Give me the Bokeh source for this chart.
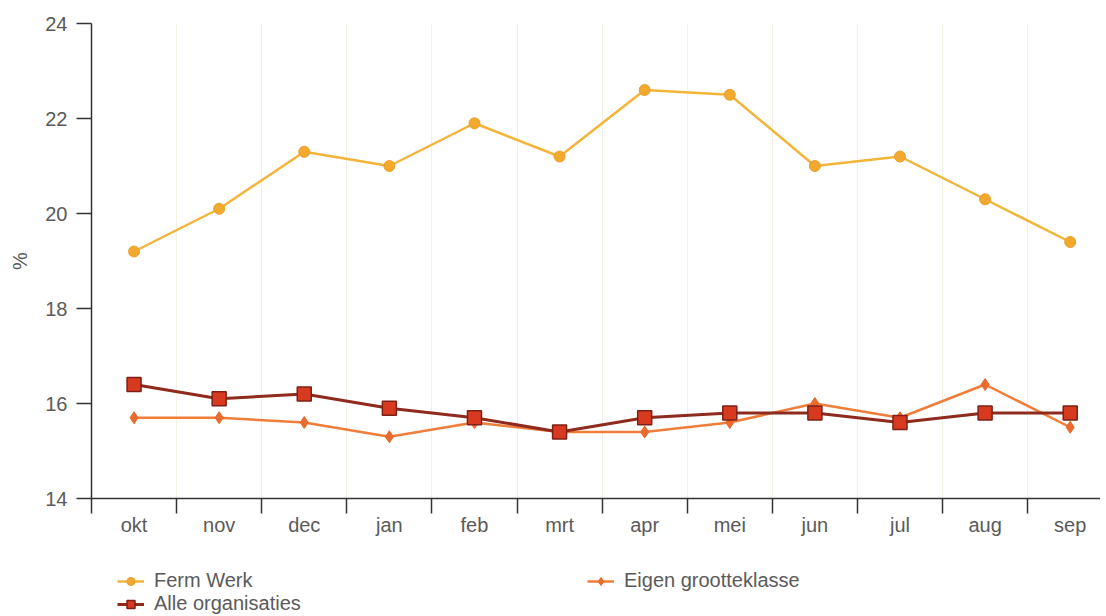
from bokeh.plotting import figure
from bokeh.layouts import column
from bokeh.models import FixedTicker, Legend, LegendItem, Range1d
from bokeh.embed import file_html
from bokeh.resources import INLINE

months = ["okt", "nov", "dec", "jan", "feb", "mrt", "apr", "mei", "jun", "jul", "aug", "sep"]
ferm_werk = [19.2, 20.1, 21.3, 21.0, 21.9, 21.2, 22.6, 22.5, 21.0, 21.2, 20.3, 19.4]
alle_org = [16.4, 16.1, 16.2, 15.9, 15.7, 15.4, 15.7, 15.8, 15.8, 15.6, 15.8, 15.8]
eigen_gk = [15.7, 15.7, 15.6, 15.3, 15.6, 15.4, 15.4, 15.6, 16.0, 15.7, 16.4, 15.5]
y_ticks = [14, 16, 18, 20, 22, 24]

xs = [i + 0.5 for i in range(len(months))]
FONT = "Liberation Sans"
FS = "20px"
TXT = "#5a5a5a"
AX = "#333333"

# styles per series
ferm_line = dict(line_color="#F2B53A", line_width=2.5)
ferm_mark = dict(marker="circle", fill_color="#F2A92E", line_color="#E9A030", line_width=1)
eigen_line = dict(line_color="#F07D3A", line_width=2.5)
eigen_mark = dict(marker="diamond", fill_color="#EC6A2C", line_color="#E8662A", line_width=1)
alle_line = dict(line_color="#8E2A1E", line_width=3)
alle_mark = dict(marker="square", fill_color="#D83A20", line_color="#7E2016", line_width=1.5)

p = figure(width=1100, height=545, output_backend="svg", toolbar_location=None,
           x_range=Range1d(0, 11.856), y_range=Range1d(14, 24))
p.min_border_left = 91
p.min_border_right = 0
p.min_border_top = 23
p.min_border_bottom = 47
p.outline_line_color = None
p.background_fill_color = "#FFFFFF"
p.border_fill_color = "#FFFFFF"

# axes
p.xaxis.ticker = FixedTicker(ticks=xs, minor_ticks=list(range(0, 13)))
p.xaxis.major_label_overrides = {x: m for x, m in zip(xs, months)}
p.xaxis.major_tick_out = 0
p.xaxis.major_tick_in = 0
p.xaxis.minor_tick_out = 15
p.xaxis.minor_tick_in = 0
p.xaxis.minor_tick_line_color = AX
p.xaxis.minor_tick_line_width = 1.5
p.xaxis.major_label_standoff = 0
p.yaxis.ticker = FixedTicker(ticks=y_ticks, minor_ticks=[])
p.yaxis.major_tick_out = 15
p.yaxis.major_tick_in = 0
p.yaxis.major_label_standoff = 9
p.yaxis.axis_label = "%"
p.yaxis.axis_label_standoff = 11
for ax in (p.xaxis, p.yaxis):
    ax.axis_line_color = AX
    ax.axis_line_width = 1.5
    ax.major_tick_line_color = AX
    ax.major_tick_line_width = 1.5
    ax.major_label_text_font = FONT
    ax.major_label_text_font_size = FS
    ax.major_label_text_color = TXT
    ax.axis_label_text_font = FONT
    ax.axis_label_text_font_size = FS
    ax.axis_label_text_font_style = "normal"
    ax.axis_label_text_color = TXT

p.xgrid.ticker = FixedTicker(ticks=list(range(0, 13)))
p.xgrid.grid_line_color = "#F4F1E2"
p.xgrid.grid_line_width = 1
p.ygrid.grid_line_color = None

# series
p.line(xs, ferm_werk, **ferm_line)
p.scatter(xs, ferm_werk, size=11, **ferm_mark)
p.line(xs, eigen_gk, **eigen_line)
p.scatter(xs, eigen_gk, size=12, **eigen_mark)
p.line(xs, alle_org, **alle_line)
p.scatter(xs, alle_org, size=14, **alle_mark)

# legend strip: a separate figure (frames aligned with the chart) whose
# renderers hold the same series but lie outside its visible range
lg = figure(width=1100, height=70, output_backend="svg", toolbar_location=None,
            x_axis_type=None, y_axis_type=None, x_range=Range1d(-100, -99), y_range=Range1d(-100, -99))
lg.min_border = 0
lg.outline_line_color = None
lg.xgrid.grid_line_color = None
lg.ygrid.grid_line_color = None
lg.background_fill_color = "#FFFFFF"
lg.border_fill_color = "#FFFFFF"
r_fl = lg.line(xs, ferm_werk, **ferm_line)
r_fm = lg.scatter(xs, ferm_werk, size=10, **ferm_mark)
r_al = lg.line(xs, alle_org, **alle_line)
r_am = lg.scatter(xs, alle_org, size=12, **alle_mark)
r_el = lg.line(xs, eigen_gk, **eigen_line)
r_em = lg.scatter(xs, eigen_gk, size=10, **eigen_mark)

common = dict(padding=0, margin=0, spacing=0, glyph_width=27, glyph_height=20, label_height=20,
              label_standoff=10, border_line_color=None, background_fill_alpha=0,
              label_text_font=FONT, label_text_font_size=FS, label_text_color=TXT)
leg1 = Legend(items=[LegendItem(label="Ferm Werk", renderers=[r_fl, r_fm]),
                     LegendItem(label="Alle organisaties", renderers=[r_al, r_am])],
              location=(26, 0), **common)
leg2 = Legend(items=[LegendItem(label="Eigen grootteklasse", renderers=[r_el, r_em])],
              location=(496, 23), **common)
lg.add_layout(leg1, "center")
lg.add_layout(leg2, "center")

open("out.html", "w").write(file_html(column(p, lg, spacing=0), INLINE))
